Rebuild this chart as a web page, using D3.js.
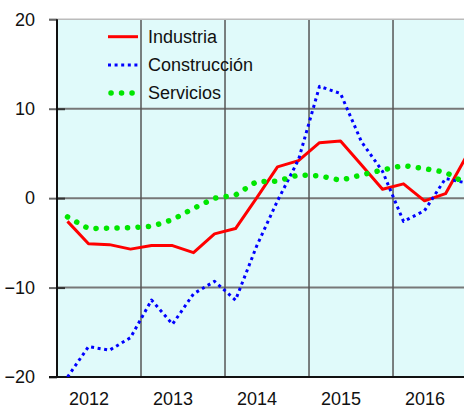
<!DOCTYPE html>
<html>
<head>
<meta charset="utf-8">
<script src="https://cdn.jsdelivr.net/npm/d3@7"></script>
<style>
  body { margin: 0; background: #fff; }
  #app { width: 464px; height: 408px; }
  text { font-family: "Liberation Sans", Arial, sans-serif; fill: #111; }
</style>
</head>
<body>
<div id="app"></div>
<script>
// quarterly series, 2012 Q1 .. 2016 Q4
const years = [2012, 2013, 2014, 2015, 2016];
const industria = [-2.6, -5.1, -5.2, -5.7, -5.3, -5.3, -6.1, -4.0, -3.4, 0.0,
	3.5, 4.2, 6.2, 6.4, 3.7, 1.0, 1.6, -0.3, 0.5, 4.7];
const construccion = [-20.0, -16.6, -17.0, -15.6, -11.4, -14.1, -10.7, -9.3, -11.4, -5.4,
	-0.3, 4.3, 12.5, 11.7, 6.3, 3.0, -2.6, -1.4, 2.2, 1.7];
const servicios = [-2.1, -3.4, -3.35, -3.3, -3.15, -2.4, -1.15, 0.0, 0.35, 1.85,
	1.9, 2.6, 2.5, 2.0, 2.6, 3.15, 3.65, 3.3, 2.9, 1.6];
const yTicks = [-20, -10, 0, 10, 20];

const series = [
	{name: 'Industria', values: industria, color: '#ff0000', width: 3, dash: null, cap: 'butt'},
	{name: 'Construcción', values: construccion, color: '#0000ff', width: 3, dash: '3 3.6', cap: 'butt'},
	{name: 'Servicios', values: servicios, color: '#00e600', width: 5.5, dash: '0.1 10.4', cap: 'round'},
];

const width = 464, height = 408;
const plot = {left: 57, right: 464, top: 19.3, bottom: 377};

const svg = d3.select('#app').append('svg')
	.attr('width', width)
	.attr('height', height);

const x = d3.scaleLinear().domain([-0.5, 18.88]).range([plot.left, plot.right]);
const y = d3.scaleLinear().domain([-20, 20]).range([plot.bottom, plot.top]);

svg.append('defs').append('clipPath').attr('id', 'plot')
	.append('rect')
	.attr('x', plot.left).attr('y', plot.top)
	.attr('width', plot.right - plot.left).attr('height', plot.bottom - plot.top);

svg.append('rect')
	.attr('x', plot.left).attr('y', plot.top)
	.attr('width', plot.right - plot.left).attr('height', plot.bottom - plot.top)
	.attr('fill', '#e0fafa');

// horizontal grid
svg.append('g')
	.selectAll('line')
	.data(yTicks.filter((d) => d > -20 && d < 20))
	.enter()
	.append('line')
	.attr('x1', plot.left).attr('x2', plot.right)
	.attr('y1', (d) => y(d)).attr('y2', (d) => y(d))
	.attr('stroke', '#777')
	.attr('stroke-width', 2);

// year separators
svg.append('g')
	.selectAll('line')
	.data(years.slice(1).map((d, i) => 3.5 + 4 * i))
	.enter()
	.append('line')
	.attr('x1', (d) => x(d)).attr('x2', (d) => x(d))
	.attr('y1', plot.top).attr('y2', plot.bottom)
	.attr('stroke', '#555')
	.attr('stroke-width', 1.5);

// top border
svg.append('line')
	.attr('x1', 49).attr('x2', plot.right)
	.attr('y1', plot.top).attr('y2', plot.top)
	.attr('stroke', '#bbb')
	.attr('stroke-width', 1.5);

const yAxis = svg.append('g')
	.attr('transform', `translate(${plot.left},0)`)
	.call(d3.axisLeft(y).tickValues(yTicks).tickSize(8).tickPadding(14).tickFormat(d3.format('d')));
yAxis.select('.domain').remove();
yAxis.selectAll('line').attr('stroke', '#666').attr('stroke-width', 2);
yAxis.selectAll('text').attr('font-size', 18).attr('fill', '#111');

const yInner = svg.append('g')
	.attr('transform', `translate(${plot.left},0)`)
	.call(d3.axisRight(y).tickValues([-10, 0, 10]).tickSize(8).tickFormat(''));
yInner.select('.domain').remove();
yInner.selectAll('line').attr('stroke', '#333').attr('stroke-width', 2);

const xAxis = svg.append('g')
	.attr('transform', `translate(0,${plot.bottom})`)
	.call(d3.axisBottom(x)
		.tickValues(years.map((d, i) => 1 + 4 * i))
		.tickSize(0)
		.tickPadding(15)
		.tickFormat((d) => years[(d - 1) / 4]));
xAxis.select('.domain').remove();
xAxis.selectAll('text').attr('font-size', 18).attr('fill', '#111');

// axis lines
svg.append('line')
	.attr('x1', plot.left).attr('x2', plot.left)
	.attr('y1', plot.top).attr('y2', plot.bottom)
	.attr('stroke', '#111')
	.attr('stroke-width', 2);
svg.append('line')
	.attr('x1', 49).attr('x2', plot.right)
	.attr('y1', plot.bottom).attr('y2', plot.bottom)
	.attr('stroke', '#111')
	.attr('stroke-width', 2);

const line = d3.line()
	.x((d, i) => x(i))
	.y((d) => y(d));

svg.append('g')
	.attr('clip-path', 'url(#plot)')
	.selectAll('path')
	.data(series)
	.enter()
	.append('path')
	.attr('d', (d) => line(d.values))
	.attr('fill', 'none')
	.attr('stroke', (d) => d.color)
	.attr('stroke-width', (d) => d.width)
	.attr('stroke-dasharray', (d) => d.dash)
	.attr('stroke-linecap', (d) => d.cap)
	.attr('stroke-linejoin', 'round');

// legend
const legend = svg.append('g')
	.selectAll('g')
	.data(series)
	.enter()
	.append('g')
	.attr('transform', (d, i) => `translate(108,${36.7 + 28.2 * i})`);

legend.append('line')
	.attr('x1', (d) => d.cap === 'round' ? 3 : 0)
	.attr('x2', 30)
	.attr('y1', 0).attr('y2', 0)
	.attr('stroke', (d) => d.color)
	.attr('stroke-width', (d) => d.width)
	.attr('stroke-dasharray', (d) => d.dash)
	.attr('stroke-linecap', (d) => d.cap);

legend.append('text')
	.attr('x', 40)
	.attr('y', 6)
	.attr('font-size', 18)
	.text((d) => d.name);
</script>
</body>
</html>
